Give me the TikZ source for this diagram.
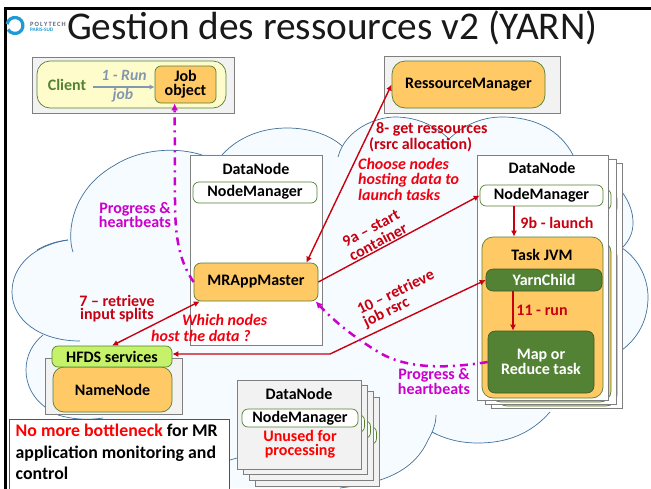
\documentclass[tikz,border=0pt]{standalone}
\usepackage{fontspec}
\setmainfont{Carlito}
\usetikzlibrary{arrows.meta,calc}
\definecolor{cloudfill}{HTML}{F5FBFF}
\definecolor{cloudline}{HTML}{41719C}
\definecolor{boxgray}{HTML}{F2F2F2}
\definecolor{linegray}{HTML}{7F7F7F}
\definecolor{orangebox}{HTML}{FFC966}
\definecolor{greenline}{HTML}{548235}
\definecolor{darkred}{HTML}{C80010}
\definecolor{brightred}{HTML}{F00010}
\definecolor{purp}{HTML}{CC00CC}
\definecolor{slate}{HTML}{8497B0}
\definecolor{lime}{HTML}{C6F26A}
\definecolor{notedge}{HTML}{44546A}
\definecolor{logoblue}{HTML}{1E9BD7}
% \bx{name}{x1}{y1}{x2}{y2}{style}{text}
\newcommand{\bx}[7]{%
  \pgfmathsetmacro{\bxw}{(#4)-(#2)}\pgfmathsetmacro{\bxh}{(#5)-(#3)}%
  \pgfmathsetmacro{\bxx}{((#2)+(#4))/2}\pgfmathsetmacro{\bxy}{((#3)+(#5))/2}%
  \node[#6,minimum width=\bxw pt,minimum height=\bxh pt,inner sep=0pt,align=center] (#1) at (\bxx,\bxy) {#7};}
\newcommand{\fs}[2]{\fontsize{#1}{#2}\selectfont}
\tikzset{
  x=1pt,y=-1pt,
  graybox/.style={draw=linegray,fill=boxgray,line width=0.9pt},
  page/.style={draw=linegray,fill=white,line width=1pt},
  graypage/.style={draw=linegray,fill=boxgray,line width=1pt},
  orng/.style={draw=greenline,fill=orangebox,line width=0.7pt,rounded corners=#1,font=\fs{16}{13.7}\bfseries},
  orng/.default=7pt,
  nmgr/.style={draw=greenline,fill=white,line width=0.7pt,rounded corners=6pt,font=\fs{16}{13.7}\bfseries},
  dkgreen/.style={draw=greenline!70!black,fill=greenline,line width=0.6pt,text=white,font=\fs{16}{13.7}\bfseries},
  lbl/.style={inner sep=0pt,font=\fs{16}{13.7}\bfseries,align=center},
  redlbl/.style={lbl,text=darkred},
  italred/.style={lbl,text=brightred,font=\fs{16}{15.5}\bfseries\itshape,align=left,anchor=west},
  purlbl/.style={lbl,text=purp},
  redarr/.style={draw=darkred,line width=1.4pt,-{Latex[length=6pt,width=6pt]}},
  redboth/.style={draw=darkred,line width=1.4pt,{Latex[length=6pt,width=6pt]}-{Latex[length=6pt,width=6pt]}},
  purarr/.style={draw=purp,line width=2.5pt,dash pattern=on 8pt off 5pt on 2pt off 5pt,-{Latex[length=7pt,width=7pt]}},
  lobe/.style={draw=cloudline,line width=0.7pt},
}
\begin{document}
\begin{tikzpicture}
\useasboundingbox (0,0) rectangle (651,488);
\fill[white] (0,0) rectangle (651,488);
% frame
\draw[line width=2.4pt,black] (5.5,490) -- (5.5,8.5) -- (651,8.5);
% cloud
\fill[cloudfill] (68,240) .. controls (70,190) and (115,150) .. (167,150) .. controls (180,150) and (195,152) .. (222,155)
  .. controls (240,135) and (265,128) .. (287,128) .. controls (310,128) and (330,135) .. (340,150)
  .. controls (355,125) and (375,117) .. (395,117) .. controls (420,117) and (438,128) .. (449,140)
  .. controls (465,123) and (485,117) .. (502,117) .. controls (535,117) and (560,130) .. (573,155)
  .. controls (600,160) and (635,190) .. (633,223) .. controls (632,232) and (630,240) .. (627,248)
  .. controls (640,260) and (648,280) .. (648,297) .. controls (648,320) and (638,338) .. (622,350)
  -- (550,412) .. controls (530,435) and (505,443) .. (478,443) .. controls (460,443) and (445,439) .. (430,432)
  .. controls (420,455) and (405,470) .. (380,480) -- (350,488) -- (100,488) -- (103,418)
  .. controls (85,420) and (65,418) .. (45,407) .. controls (30,395) and (26,383) .. (26,370) .. controls (26,355) and (33,343) .. (43,335)
  .. controls (20,325) and (12,310) .. (12,292) .. controls (12,265) and (35,243) .. (68,240) -- cycle;
\draw[lobe] (73,252) .. controls (67,235) and (70,190) .. (115,165) .. controls (135,152) and (170,145) .. (202,155);
\draw[lobe] (222,155) .. controls (240,135) and (265,128) .. (287,128) .. controls (310,128) and (330,135) .. (342,146);
\draw[lobe] (338,157) .. controls (345,130) and (375,117) .. (395,117) .. controls (420,117) and (438,128) .. (450,140);
\draw[lobe] (448,140) .. controls (465,123) and (485,117) .. (502,117) .. controls (535,117) and (560,130) .. (573,155);
\draw[lobe] (622,192) .. controls (630,203) and (633,213) .. (633,223) .. controls (633,232) and (630,240) .. (622,248);
\draw[lobe] (622,248) .. controls (640,260) and (648,280) .. (648,297) .. controls (648,320) and (638,338) .. (622,350);
\draw[lobe] (550,412) .. controls (530,435) and (505,443) .. (478,443) .. controls (460,443) and (445,439) .. (432,432);
\draw[lobe] (436,415) .. controls (436,425) and (432,433) .. (428,440) .. controls (420,458) and (405,472) .. (380,480);
\draw[lobe] (68,240) .. controls (35,245) and (12,265) .. (12,292) .. controls (12,320) and (40,341) .. (80,341);
\draw[lobe] (43,335) .. controls (33,343) and (26,355) .. (26,370) .. controls (26,385) and (33,398) .. (45,407);
\draw[lobe] (58,415) .. controls (75,420) and (90,420) .. (103,418);
\draw[lobe] (230,460) -- (237,458);
\draw[lobe] (340,488) .. controls (355,486) and (368,484) .. (380,480);
\draw[lobe] (37,250) .. controls (47,244) and (58,241) .. (68,240);
% logo
\draw[draw=logoblue,line width=3.2pt] (7.1,24.1) arc[start angle=190,end angle=510,radius=8];
\node[inner sep=0pt,anchor=west,text=slate!70!black,font=\fs{6.5}{6}\bfseries] (lg1) at (30,24) {P\,O\,L\,Y\,T\,E\,C\,H};
\node[inner sep=0pt,anchor=west,text=logoblue,font=\fs{5.2}{5}\bfseries] (lg2) at (30,30) {PARIS-SUD};
% title
\node[inner sep=0pt,anchor=base west,text=black!90,font=\fs{39.3}{36}] (title) at (67,39) {Gestion des ressources v2 (YARN)};
% client
\bx{cbox}{32}{57}{234}{113}{graybox}{}
\bx{cyel}{37}{61}{226}{108}{draw=greenline,fill=yellow!20,line width=0.7pt,rounded corners=13pt}{}
\bx{job}{155}{66}{216}{103}{orng=6pt}{Job\\object}
\node[lbl,text=greenline] (client) at (67,85) {Client};
\node[lbl,text=slate,font=\fs{15.7}{14}\bfseries\itshape] (run) at (124,75) {1 - Run};
\node[lbl,text=slate,font=\fs{15.7}{14}\bfseries\itshape] (jobl) at (123,95) {job};
\coordinate (cla) at (93,87);
\draw[draw=slate,line width=1.1pt,-{Latex[length=5pt,width=5pt]}] (cla) -- (cla -| job.west);
% RM
\bx{rmbox}{384}{56}{560}{113}{graybox}{}
\bx{rm}{392}{61}{545}{108}{orng=13pt}{RessourceManager}
% middle datanode
\bx{dn}{190}{155}{322}{345}{page}{}
\node[lbl] (dnl) at (256,169) {DataNode};
\bx{nm}{193}{182}{317}{203}{nmgr}{NodeManager}
\bx{mr}{194}{263}{318}{301}{orng=7pt}{MRAppMaster}
\node[italred] (which) at (151,328) {\hspace*{31pt}Which nodes\\host the data ?};
% HDFS
\bx{nnbox}{45}{358}{182}{414}{graybox}{}
\bx{nn}{53}{367}{172}{412}{orng=11pt}{NameNode}
\bx{hfds}{52}{346}{172}{367}{orng=6pt,fill=lime}{HFDS services}
% right stack
\foreach \s/\t/\n in {14/8/c,8/4/b}{
  \bx{pg\n}{477+\s}{155+\t}{608+\s}{400+\t}{page}{}
  \bx{nmg\n}{480+\s}{185+\t}{603+\s}{206+\t}{nmgr}{}
  \bx{tsk\n}{482+\s}{237+\t}{603+\s}{398+\t}{orng=11pt}{}
}
\bx{pgr}{477}{155}{608}{400}{page}{}
\node[lbl] (dnr) at (542,168) {DataNode};
\bx{nmr}{480}{185}{603}{206}{nmgr}{NodeManager}
\bx{tsk}{482}{237}{603}{398}{orng=11pt}{}
\node[lbl] (tskl) at (542,255) {Task JVM};
\bx{yc}{486}{269}{602}{291}{dkgreen,rounded corners=7pt}{YarnChild}
\bx{map}{488}{331}{594}{393}{dkgreen,rounded corners=7pt}{Map or\\Reduce task}
% bottom stack
\foreach \s/\t/\n in {18.5/17.5/c,12.5/11.5/b,6.5/5.5/a}{
  \bx{gp\n}{237+\s}{380+\t}{361+\s}{469+\t}{graypage}{}
  \bx{gn\n}{242+\s}{409+\t}{358+\s}{427+\t}{nmgr}{}
}
\bx{gpf}{237}{380}{361}{469}{graypage}{}
\node[lbl] (dnb) at (299,394) {DataNode};
\bx{nmb}{242}{409}{358}{427}{nmgr}{NodeManager}
\node[lbl,text=red] (unused) at (300,444) {Unused for\\processing};
% note
\bx{note}{9}{419}{229}{495}{draw=notedge,fill=white,line width=0.7pt}{}
\node[inner sep=0pt,anchor=north west,align=left,font=\fs{17.8}{21.5}\bfseries] (notet) at (15.5,424) {\textcolor{red}{No more bottleneck} for MR\\application monitoring and\\control};
% connectors
\draw[redboth] (mr.21) -- (rm.west);
\draw[redboth] (mr.199) -- (hfds.north);
\draw[redarr] (mr.east) -- (nmr.west);
\coordinate (n9b) at (514,206);
\draw[redarr] (n9b) -- (n9b |- tsk.north);
\coordinate (n11) at (513,291);
\draw[redarr] (n11) -- (n11 |- map.north);
\coordinate (c10) at (330,354);
\draw[redboth] (c10 -| hfds.east) -- (c10) -- (yc.west);
\draw[purarr] (mr.west) .. controls (180,262) and (175,240) .. (175,200) -- (job.240);
\coordinate (pm) at (380,353);
\draw[purarr] (map.west) .. controls (450,368) and (410,370) .. (pm) .. controls (355,338) and (335,322) .. (mr.-18);
% labels
\node[purlbl] (pl1) at (135,215) {Progress \&\\heartbeats};
\node[purlbl] (pl2) at (434,381.5) {Progress \&\\heartbeats};
\node[redlbl] (l7) at (117,308.5) {7 – retrieve\\input splits};
\node[redlbl,align=left,anchor=west] (l8) at (369,137) {\hspace*{7pt}8- get ressources\\(rsrc allocation)};
\node[italred] (choose) at (358,179) {Choose nodes\\hosting data to\\launch tasks};
\node[redlbl,rotate=28,font=\fs{16}{15.5}\bfseries] (l9a) at (374.5,235) {9a – start\\container};
\node[redlbl] (l9b) at (557,223) {9b - launch};
\node[redlbl,rotate=26,align=left] (l10) at (399,299) {10 – retrieve\\job rsrc};
\node[redlbl] (l11) at (542,310) {11 - run};
\end{tikzpicture}
\end{document}
